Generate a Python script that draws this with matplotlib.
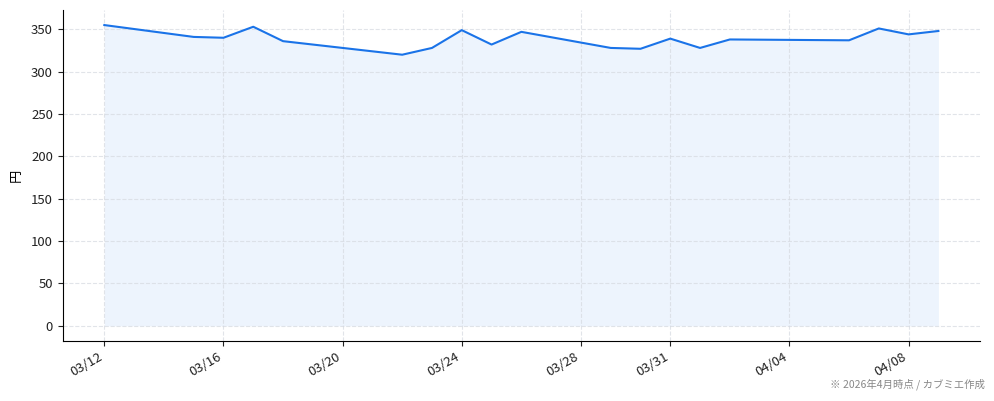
import matplotlib
matplotlib.use("Agg")
import matplotlib.pyplot as plt
import matplotlib.dates as mdates
import numpy as np
import pandas as pd

plt.rcParams['font.family'] = ['Noto Sans CJK JP', 'DejaVu Sans']

# daily close (円)
dates = pd.to_datetime([
    "2026-03-12", "2026-03-15", "2026-03-16", "2026-03-17", "2026-03-18",
    "2026-03-22", "2026-03-23", "2026-03-24", "2026-03-25", "2026-03-26",
    "2026-03-29", "2026-03-30", "2026-03-31", "2026-04-01", "2026-04-02",
    "2026-04-06", "2026-04-07", "2026-04-08", "2026-04-09",
])
prices = [355, 341, 340, 353, 336,
          320, 328, 349, 332, 347,
          328, 327, 339, 328, 338,
          337, 351, 344, 348]

tick_dates = pd.to_datetime([
    "2026-03-12", "2026-03-16", "2026-03-20", "2026-03-24",
    "2026-03-28", "2026-03-31", "2026-04-04", "2026-04-08",
])
y_ticks = [0, 50, 100, 150, 200, 250, 300, 350]
note = "※ 2026年4月時点 / カブミエ作成"

line_color = "#1a73e8"

fig, ax = plt.subplots(figsize=(9.94, 4.01), dpi=100)
fig.subplots_adjust(left=0.063, right=0.986, top=0.975, bottom=0.15)

ax.plot(dates, prices, color=line_color, linewidth=1.5)
ax.fill_between(dates, prices, 0, color=line_color, alpha=0.08, linewidth=0)

ax.set_xticks(tick_dates)
ax.xaxis.set_major_formatter(mdates.DateFormatter("%m/%d"))
ax.set_yticks(y_ticks)
plt.setp(ax.get_xticklabels(), rotation=30, ha="right")
ax.tick_params(labelsize=9.5, colors="#222222")

ax.set_ylabel("円", fontsize=9.5, labelpad=6)
ax.grid(True, linestyle="--", color="#d5d9e0", alpha=0.7, linewidth=0.8)
ax.spines["top"].set_visible(False)
ax.spines["right"].set_visible(False)

fig.text(0.991, 0.028, note, ha="right", va="bottom", fontsize=7.5, color="#888888")

fig.savefig("out.png", dpi=100)
